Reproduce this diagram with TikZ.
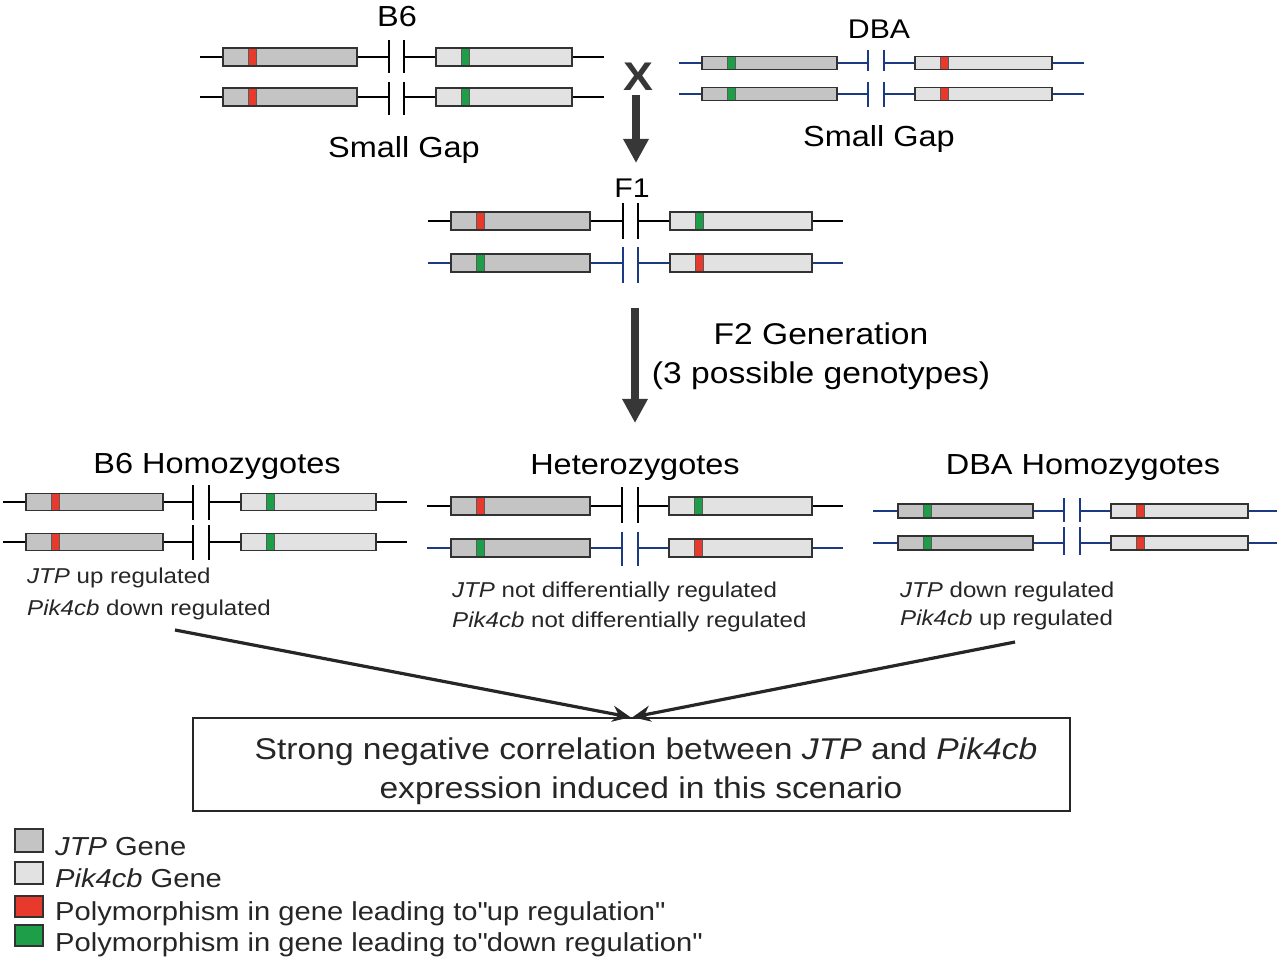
\documentclass[tikz,border=0pt]{standalone}
\usepackage{fontspec}
\setmainfont{Liberation Sans}[FakeStretch=1.12]
\usetikzlibrary{arrows.meta}
\definecolor{jtpgray}{RGB}{196,196,196}
\definecolor{pikgray}{RGB}{226,226,226}
\definecolor{polyred}{RGB}{232,58,44}
\definecolor{polygreen}{RGB}{30,158,72}
\definecolor{chrblue}{RGB}{28,58,130}
\definecolor{boxline}{RGB}{50,50,50}
\definecolor{arrowgray}{RGB}{55,55,55}
\newcommand\fs[1]{\fontsize{#1}{#1}\selectfont}
% block positions: line start, JTP box start/end, bar1, bar2, Pik box start/end, line end
\newcommand\setblock[8]{\def\pA{#1}\def\pB{#2}\def\pC{#3}\def\pD{#4}\def\pE{#5}\def\pF{#6}\def\pG{#7}\def\pH{#8}}
% row: #1 y, #2 half height, #3 line colour, #4 JTP mark colour, #5 Pik mark colour, #6 bar up, #7 bar down
\newcommand\chrrow[7]{%
  \draw[#3, chrline] (\pA,#1) -- (\pB,#1);
  \draw[#3, chrline] (\pC,#1) -- (\pD,#1);
  \draw[#3, chrline] (\pE,#1) -- (\pF,#1);
  \draw[#3, chrline] (\pG,#1) -- (\pH,#1);
  \draw[#3, gapbar] (\pD,{#1-#6}) -- (\pD,{#1+#7});
  \draw[#3, gapbar] (\pE,{#1-#6}) -- (\pE,{#1+#7});
  \fill[jtpgray] (\pB,{#1-#2}) rectangle (\pC,{#1+#2});
  \fill[pikgray] (\pF,{#1-#2}) rectangle (\pG,{#1+#2});
  \filldraw[fill=#4, polymark] ({\pB+25},{#1-#2}) rectangle ({\pB+33},{#1+#2});
  \filldraw[fill=#5, polymark] ({\pF+25},{#1-#2}) rectangle ({\pF+33},{#1+#2});
  \draw[genebox] (\pB,{#1-#2}) rectangle (\pC,{#1+#2});
  \draw[genebox] (\pF,{#1-#2}) rectangle (\pG,{#1+#2});
}
\begin{document}
\begin{tikzpicture}[x=1pt,y=-1pt,
  chrline/.style={line width=1.4pt},
  gapbar/.style={line width=1.8pt},
  genebox/.style={draw=boxline, line width=1.8pt},
  polymark/.style={draw=boxline!80, line width=0.8pt},
  title/.style={anchor=base, inner sep=0pt, font=\fs{29}},
  note/.style={anchor=base west, inner sep=0pt, font=\fs{21.5}, text=black!85},
  bigarrow/.style={draw=arrowgray, line width=8pt, -{Triangle[width=24pt,length=24pt]}},
  thinarrow/.style={draw=black!85, line width=3.2pt, -{Stealth[width=16pt,length=18pt]}},
  legsq/.style={draw=boxline, line width=1.8pt},
  restxt/.style={anchor=base, inner sep=0pt, font=\fs{30}, text=black!85},
  legtext/.style={anchor=base west, inner sep=0pt, font=\fs{26}, text=black!85}]
\useasboundingbox (0,0) rectangle (1280,965);
\fill[white] (0,0) rectangle (1280,965);

% ---- B6 parent
\setblock{200}{223}{357}{389}{404}{436}{572}{604}
\chrrow{57}{9}{black}{polyred}{polygreen}{17}{16}
\chrrow{97}{9}{black}{polyred}{polygreen}{15}{18}
\node[title] (b6) at (397,27) {B6};
\node[title] (gapL) at (404,158) {Small Gap};

% ---- DBA parent
\setblock{679}{702}{837}{868}{884}{915}{1052}{1084}
\chrrow{63}{6.5}{chrblue}{polygreen}{polyred}{13}{8}
\chrrow{94}{6.5}{chrblue}{polygreen}{polyred}{12}{13}
\node[title, font=\fs{27}] (dba) at (879,39) {DBA};
\node[title] (gapR) at (879,147) {Small Gap};

% ---- cross
\node[inner sep=0pt, font=\fs{40}\bfseries, text=arrowgray] (cross) at (638,77) {X};
\coordinate (a1s) at (636,95);
\coordinate (a1e) at (636,163);
\draw[bigarrow] (a1s) -- (a1e);

% ---- F1
\node[title, font=\fs{27}] (f1) at (632,198) {F1};
\setblock{428}{451}{590}{623}{638}{670}{812}{843}
\chrrow{221}{9}{black}{polyred}{polygreen}{18}{18}
\chrrow{263}{9}{chrblue}{polygreen}{polyred}{16}{20}

% ---- F2
\coordinate (a2s) at (635,308);
\coordinate (a2e) at (635,423);
\draw[bigarrow] (a2s) -- (a2e);
\node[title, font=\fs{30}] (f2a) at (821,345) {F2 Generation};
\node[title, font=\fs{30}] (f2b) at (821,384) {(3 possible genotypes)};

% ---- B6 homozygotes
\node[title] (b6h) at (217,473) {B6 Homozygotes};
\setblock{3}{26}{163}{193}{209}{241}{376}{407}
\chrrow{502}{8.5}{black}{polyred}{polygreen}{17}{18}
\chrrow{542}{8.5}{black}{polyred}{polygreen}{17}{18}
\node[note] (b6n1) at (27,583) {\textit{JTP} up regulated};
\node[note] (b6n2) at (27,615) {\textit{Pik4cb} down regulated};

% ---- Heterozygotes
\node[title] (het) at (635,475) {Heterozygotes};
\setblock{427}{451}{590}{622}{638}{669}{812}{843}
\chrrow{506}{9}{black}{polyred}{polygreen}{19}{17}
\chrrow{548}{9}{chrblue}{polygreen}{polyred}{16}{18}
\node[note] (hetn1) at (452,597) {\textit{JTP} not differentially regulated};
\node[note] (hetn2) at (452,627) {\textit{Pik4cb} not differentially regulated};

% ---- DBA homozygotes
\node[title] (dbah) at (1083,475) {DBA Homozygotes};
\setblock{873}{898}{1033}{1064}{1080}{1111}{1248}{1277}
\chrrow{511}{7}{chrblue}{polygreen}{polyred}{13}{11}
\chrrow{543}{7}{chrblue}{polygreen}{polyred}{16}{12}
\node[note] (dban1) at (900,597) {\textit{JTP} down regulated};
\node[note] (dban2) at (900,625) {\textit{Pik4cb} up regulated};

% ---- result box
\node[draw=black!85, line width=1.6pt, minimum width=877pt, minimum height=93pt, inner sep=0pt] (res) at (631.5,764.5) {};
\node[restxt] (restext1) at (646,759) {Strong negative correlation between \textit{JTP} and \textit{Pik4cb}};
\node[restxt] (restext2) at (641,798) {expression induced in this scenario};
\coordinate (l1) at (175,630);
\coordinate (r1) at (1015,642);
\draw[thinarrow] (l1) -- ([xshift=-1pt]res.north);
\draw[thinarrow] (r1) -- ([xshift=1pt]res.north);

% ---- legend
\filldraw[fill=jtpgray, legsq] (15,829) rectangle (43,852);
\filldraw[fill=pikgray, legsq] (15,862) rectangle (43,884);
\filldraw[fill=polyred, legsq] (15,896) rectangle (43,917);
\filldraw[fill=polygreen, legsq] (15,925) rectangle (43,946);
\node[legtext] (lg1) at (55,855) {\textit{JTP} Gene};
\node[legtext] (lg2) at (55,887) {\textit{Pik4cb} Gene};
\node[legtext] (lg3) at (55,920) {Polymorphism in gene leading to\textquotedbl up regulation\textquotedbl};
\node[legtext] (lg4) at (55,951) {Polymorphism in gene leading to\textquotedbl down regulation\textquotedbl};
\end{tikzpicture}
\end{document}
